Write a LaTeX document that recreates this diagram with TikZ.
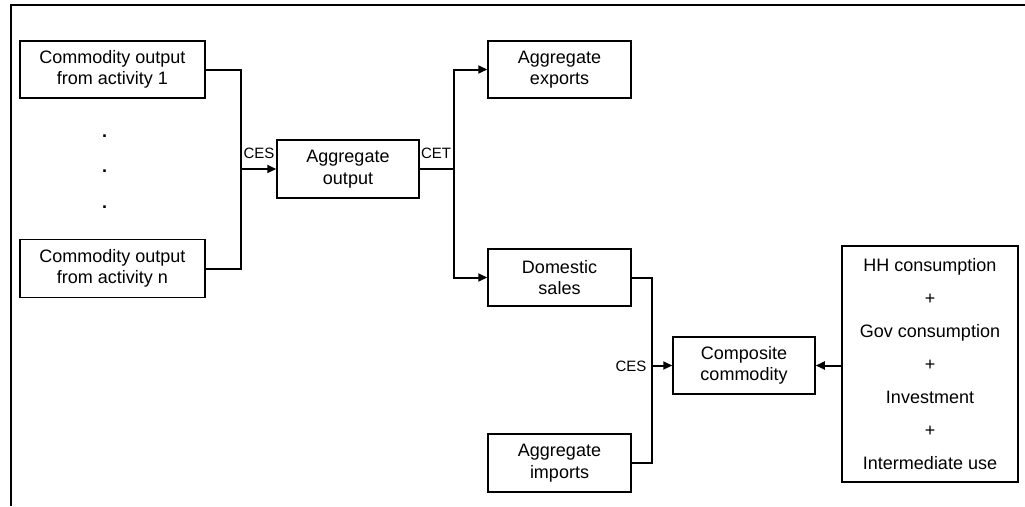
\documentclass[tikz,border=0pt]{standalone}
\usepackage{fontspec}
\setmainfont{Liberation Sans}
\usetikzlibrary{arrows.meta}
\begin{document}
\begin{tikzpicture}[x=1pt,y=-1pt,
  box/.style={draw,line width=1.5pt,inner sep=0pt,align=center,
    font=\fontsize{18}{21.5}\selectfont},
  wire/.style={line width=2pt},
  feed/.style={wire,-{Triangle[length=9pt,width=8pt]}},
  tag/.style={inner sep=0pt,font=\fontsize{15}{18}\selectfont},
  dot/.style={inner sep=0pt,font=\bfseries\fontsize{18}{18}\selectfont}]
\useasboundingbox (0,0) rectangle (1025,506);
% frame
\draw[line width=2pt] (11,506) -- (11,5) -- (1025,5);
% commodity outputs by activity
\node[box,minimum width=185pt,minimum height=57pt] (act1) at (112.5,69.5) {Commodity output\\from activity 1};
\node[box,minimum width=185pt,minimum height=58pt] (actn) at (112.5,268.5) {Commodity output\\from activity n};
\node[dot] (d1) at (104.5,136) {.};
\node[dot] (d2) at (104.5,171) {.};
\node[dot] (d3) at (104.5,207) {.};
% aggregate output and its split
\node[box,minimum width=142pt,minimum height=58pt] (aggout) at (348,169) {Aggregate\\output};
\node[box,minimum width=143pt,minimum height=57pt] (exports) at (559.5,69.5) {Aggregate\\exports};
\node[box,minimum width=143pt,minimum height=57pt] (domestic) at (559.5,277.5) {Domestic\\sales};
\node[box,minimum width=143pt,minimum height=58pt] (imports) at (559.5,463) {Aggregate\\imports};
\node[box,minimum width=142pt,minimum height=57pt] (composite) at (744,365.5) {Composite\\commodity};
% final demand
\node[box,minimum width=176pt,minimum height=236pt,
  font=\fontsize{18}{33}\selectfont] (demand) at (930,364)
  {HH consumption\\+\\Gov consumption\\+\\Investment\\+\\Intermediate use};
% junction points
\coordinate (j1) at (241,169);
\coordinate (j2) at (454,169);
\coordinate (j3) at (652,365.5);
% connectors
\draw[wire] (act1.east) -| (j1) |- (actn.east);
\draw[feed] (j1) -- (aggout.west);
\draw[wire] (aggout.east) -- (j2);
\draw[feed] (j2) |- (exports.west);
\draw[feed] (j2) |- (domestic.west);
\draw[wire] (domestic.east) -| (j3) |- (imports.east);
\draw[feed] (j3) -- (composite.west);
\draw[feed] (demand.west |- composite.east) -- (composite.east);
% elasticity labels
\node[tag] (ces1) at (259,153) {CES};
\node[tag] (cet) at (436,153) {CET};
\node[tag] (ces2) at (631,366) {CES};
\end{tikzpicture}
\end{document}
